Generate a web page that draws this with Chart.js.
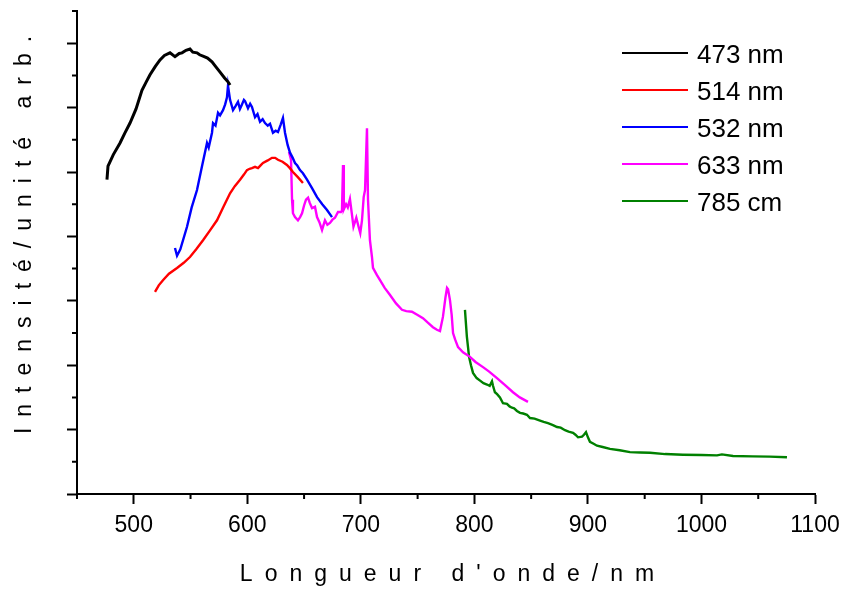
<!DOCTYPE html>
<html>
<head>
<meta charset="utf-8">
<script src="https://cdn.jsdelivr.net/npm/chart.js@4.4.1/dist/chart.umd.min.js"></script>
<style>
html,body{margin:0;padding:0;background:#fff;}
canvas{display:block;}
</style>
</head>
<body>
<canvas id="c" width="851" height="592"></canvas>
<script>
// ---- data (wavelength nm, intensity a.u.) ----
const labels = ["473 nm", "514 nm", "532 nm", "633 nm", "785 cm"];
const colors = ["#000000", "#ff0000", "#0000ff", "#ff00ff", "#008000"];

const s473 = [[476.4,4.88],[477.3,5.09],[482,5.27],[487.9,5.45],[492,5.60],[496.7,5.76],[502,5.98],[507.2,6.27],[511,6.40],[514.3,6.51],[519,6.64],[523.1,6.74],[527,6.81],[531.9,6.85],[536.3,6.79],[540,6.84],[542.5,6.85],[546,6.89],[549.5,6.91],[552,6.86],[555.7,6.85],[558,6.82],[561,6.80],[565,6.77],[568.9,6.71],[572,6.64],[576,6.55],[580,6.46],[583,6.40],[584.8,6.35]];

const s514 = [[518.7,3.14],[522,3.24],[525.7,3.32],[531,3.42],[538.1,3.51],[544,3.59],[549.5,3.68],[555,3.80],[561,3.94],[567,4.09],[573.3,4.25],[579,4.46],[584.8,4.67],[589,4.78],[593.6,4.88],[597,4.96],[599.7,5.03],[602,5.05],[604.1,5.06],[606.8,5.08],[609.4,5.06],[611.5,5.10],[613.8,5.14],[618,5.18],[621.7,5.22],[624.5,5.22],[627,5.19],[631,5.16],[634.9,5.11],[637.5,5.06],[640.2,5.00],[644.5,4.92],[649,4.83]];

const s532 = [[536.3,3.82],[538.1,3.70],[541,3.80],[546.9,4.15],[551,4.45],[555.7,4.72],[560,5.08],[564.5,5.45],[566,5.38],[568.9,5.61],[569.8,5.76],[572,5.72],[574.2,5.92],[576,5.88],[578.6,5.96],[580.5,6.05],[582.1,6.16],[583,6.34],[584.8,6.12],[587.4,5.96],[589.5,6.02],[591.8,6.09],[593.5,5.98],[595.3,6.05],[597,6.12],[598,6.10],[600.6,5.99],[602.5,6.06],[604.1,6.01],[606.8,5.85],[609,5.90],[611.2,5.78],[613.5,5.82],[615.6,5.76],[618,5.72],[620,5.75],[622.6,5.61],[625,5.64],[627,5.62],[629.5,5.74],[631.4,5.84],[633.2,5.61],[635.5,5.42],[637.6,5.30],[640,5.22],[642,5.14],[644,5.10],[646.4,5.03],[649,4.98],[652.6,4.88],[657,4.75],[661.4,4.61],[666,4.50],[670.2,4.41],[674.6,4.30]];

const s633 = [[636.7,5.31],[638.5,5.19],[639.4,4.57],[640.2,4.36],[642,4.30],[644.6,4.25],[646.5,4.30],[648.2,4.36],[650,4.48],[651.7,4.57],[653.5,4.60],[655,4.52],[657,4.44],[659.6,4.46],[661.4,4.30],[663.5,4.22],[665.8,4.10],[668.4,4.25],[670.5,4.18],[672.8,4.21],[675,4.26],[677.2,4.29],[679.9,4.38],[682.5,4.38],[683.4,4.40],[684.3,5.11],[685,4.42],[687,4.50],[688.5,4.45],[690.4,4.58],[692,4.36],[693.5,4.15],[696,4.29],[698,4.15],[699.5,4.05],[701,4.25],[702.5,4.61],[703.7,4.72],[705.4,5.68],[706.3,4.57],[708,3.94],[709.8,3.68],[710.7,3.51],[714.2,3.40],[716.9,3.32],[721,3.20],[725.7,3.09],[731,2.96],[736.2,2.86],[740,2.84],[745,2.83],[750,2.78],[754.7,2.73],[759,2.66],[763.5,2.59],[767,2.55],[769.7,2.53],[772.3,2.75],[774.5,3.05],[775.9,3.20],[776.8,3.18],[778.5,3.01],[780,2.78],[781.2,2.50],[783,2.40],[785.6,2.28],[790,2.20],[796.1,2.13],[801,2.05],[807.6,1.97],[813,1.90],[819.9,1.80],[827,1.69],[834,1.58],[840,1.50],[847.2,1.43]];

const s785 = [[791.7,2.86],[793.4,2.44],[794.4,2.28],[795.3,2.13],[797,2.00],[798.8,1.88],[802,1.80],[805,1.76],[808,1.72],[811.1,1.70],[813.5,1.68],[815.5,1.75],[816.4,1.68],[818.1,1.58],[820,1.55],[822.5,1.50],[825.2,1.41],[828.7,1.40],[831,1.36],[833.1,1.34],[835,1.33],[837.5,1.29],[840.2,1.26],[843,1.25],[846.3,1.23],[849,1.18],[853,1.17],[857.8,1.14],[861,1.12],[864.8,1.10],[869.2,1.07],[872.8,1.04],[876,1.03],[879.8,0.99],[883,0.97],[886.9,0.95],[889,0.92],[891.3,0.88],[894.8,0.89],[896.5,0.92],[898.3,0.96],[900,0.88],[901.8,0.81],[905,0.78],[908,0.75],[913,0.73],[919.4,0.70],[928,0.68],[937,0.65],[946,0.645],[954.7,0.64],[968,0.62],[983.7,0.61],[1000,0.605],[1013.7,0.60],[1018,0.615],[1027.8,0.59],[1045,0.585],[1060,0.58],[1075.3,0.57]];

const series = [s473, s514, s532, s633, s785];

const xMajorTicks = [500, 600, 700, 800, 900, 1000, 1100];
const xMinorTicks = [450, 550, 650, 750, 850, 950, 1050];
const yMajorTicks = [0, 1, 2, 3, 4, 5, 6, 7];
const yMinorTicks = [0.5, 1.5, 2.5, 3.5, 4.5, 5.5, 6.5, 7.5];

const xTitle = "Longueur d'onde/nm";
const yTitle = "Intensité/unité arb.";
// ---------------------------------------------

const FONT = "'Liberation Sans', Arial, sans-serif";

// letter-spaced axis titles
const origDrawTitle = Chart.Scale.prototype.drawTitle;
Chart.Scale.prototype.drawTitle = function() {
  const ctx = this.ctx;
  ctx.save();
  if (this.isHorizontal()) {
    ctx.letterSpacing = '12px';
    ctx.translate(7, 0);
  } else {
    ctx.letterSpacing = '11px';
    ctx.translate(0, -23);
  }
  origDrawTitle.apply(this, arguments);
  ctx.restore();
};

const minorTicks = {
  id: 'minorTicks',
  afterDraw(chart) {
    const ctx = chart.ctx;
    const xs = chart.scales.x, ys = chart.scales.y;
    ctx.save();
    ctx.strokeStyle = '#000';
    ctx.lineWidth = 2;
    ctx.beginPath();
    xMinorTicks.forEach(v => {
      const px = xs.getPixelForValue(v);
      ctx.moveTo(px, xs.top); ctx.lineTo(px, xs.top + 5);
    });
    yMinorTicks.forEach(v => {
      const py = ys.getPixelForValue(v);
      ctx.moveTo(ys.right, py); ctx.lineTo(ys.right - 5, py);
    });
    ctx.stroke();
    ctx.restore();
  }
};

const insideLegend = {
  id: 'insideLegend',
  afterDraw(chart) {
    const ctx = chart.ctx;
    ctx.save();
    ctx.font = '26px ' + FONT;
    ctx.textBaseline = 'middle';
    ctx.textAlign = 'left';
    chart.data.datasets.forEach((ds, i) => {
      const y = 53 + i * 37;
      ctx.strokeStyle = ds.borderColor;
      ctx.lineWidth = 2;
      ctx.beginPath();
      ctx.moveTo(622, y); ctx.lineTo(688, y);
      ctx.stroke();
      ctx.fillStyle = '#000';
      ctx.fillText(ds.label, 697, y + 3);
    });
    ctx.restore();
  }
};

new Chart(document.getElementById('c'), {
  type: 'line',
  data: {
    datasets: series.map((s, i) => ({
      label: labels[i],
      data: s.map(p => ({x: p[0], y: p[1]})),
      borderColor: colors[i],
      backgroundColor: colors[i],
      borderWidth: i === 0 ? 3 : 2.4,
      pointRadius: 0,
      tension: 0,
      fill: false
    }))
  },
  options: {
    responsive: false,
    animation: false,
    events: [],
    layout: { padding: { left: 0, right: 36, top: 11, bottom: 0 } },
    plugins: { legend: { display: false }, tooltip: { enabled: false } },
    scales: {
      x: {
        type: 'linear',
        min: 450, max: 1100,
        afterFit(scale) { scale.height = 98; },
        afterBuildTicks(scale) { scale.ticks = xMajorTicks.map(v => ({value: v})); },
        ticks: {
          color: '#000',
          font: { family: FONT, size: 23 },
          padding: 8,
          maxRotation: 0,
          autoSkip: false,
          callback: v => String(v)
        },
        grid: { drawOnChartArea: false, drawTicks: true, tickLength: 10, tickWidth: 2, tickColor: '#000' },
        border: { display: true, color: '#000', width: 2 },
        title: {
          display: true, text: xTitle, color: '#000',
          font: { family: FONT, size: 23 },
          padding: { top: 0, bottom: 4 }
        }
      },
      y: {
        type: 'linear',
        min: 0, max: 7.5,
        afterFit(scale) { scale.width = 77; },
        afterBuildTicks(scale) { scale.ticks = yMajorTicks.map(v => ({value: v})); },
        ticks: { display: false },
        grid: { drawOnChartArea: false, drawTicks: true, tickLength: 10, tickWidth: 2, tickColor: '#000' },
        border: { display: true, color: '#000', width: 2 },
        title: {
          display: true, text: yTitle, color: '#000',
          font: { family: FONT, size: 23 },
          padding: { top: 11, bottom: 0 }
        }
      }
    }
  },
  plugins: [minorTicks, insideLegend]
});
</script>
</body>
</html>
